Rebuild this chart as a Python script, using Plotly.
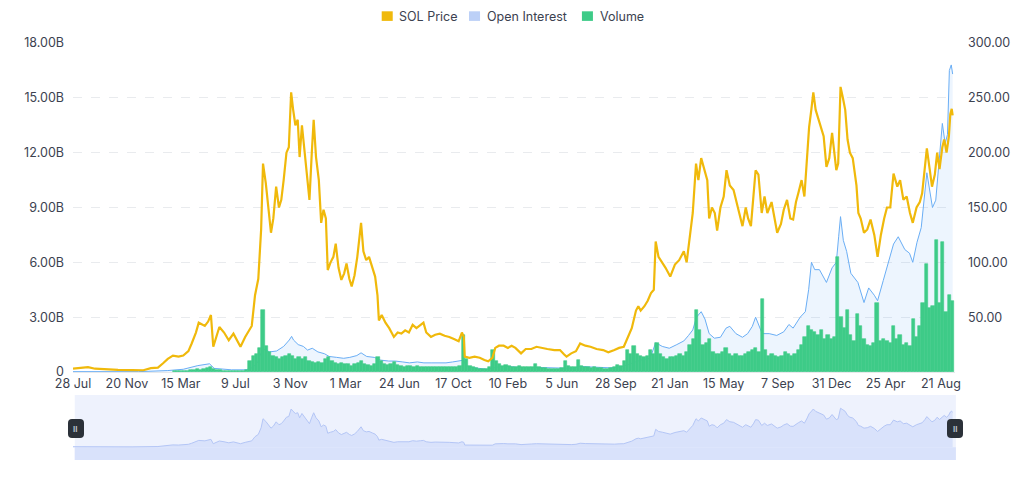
import pandas as pd
import plotly.graph_objects as go

# SOL price (USD)
price_points = [
    ("2020-07-28", 3.0), ("2020-08-12", 3.5), ("2020-08-29", 4.5), ("2020-09-13", 3.0),
    ("2020-10-01", 2.5), ("2020-11-01", 2.0), ("2020-12-01", 1.8), ("2020-12-25", 1.6),
    ("2021-01-10", 3.5), ("2021-01-25", 4.0), ("2021-02-05", 8.0), ("2021-02-15", 12.0),
    ("2021-02-26", 15.0), ("2021-03-10", 14.0), ("2021-03-20", 15.0), ("2021-03-31", 19.0),
    ("2021-04-07", 26.0), ("2021-04-16", 36.0), ("2021-04-22", 45.0), ("2021-05-05", 42.0),
    ("2021-05-12", 46.0), ("2021-05-18", 52.0), ("2021-05-23", 23.0), ("2021-06-01", 35.0),
    ("2021-06-05", 41.0), ("2021-06-15", 36.0), ("2021-06-25", 29.0), ("2021-07-05", 35.0),
    ("2021-07-20", 23.0), ("2021-07-30", 32.0), ("2021-08-05", 36.0), ("2021-08-13", 42.0),
    ("2021-08-20", 70.0), ("2021-08-27", 85.0), ("2021-09-02", 130.0), ("2021-09-06", 190.0),
    ("2021-09-12", 172.0), ("2021-09-17", 150.0), ("2021-09-23", 127.0), ("2021-09-28", 140.0),
    ("2021-10-04", 169.0), ("2021-10-10", 150.0), ("2021-10-15", 157.0), ("2021-10-20", 175.0),
    ("2021-10-26", 200.0), ("2021-10-31", 205.0), ("2021-11-05", 255.0), ("2021-11-09", 240.0),
    ("2021-11-14", 225.0), ("2021-11-19", 230.0), ("2021-11-23", 196.0), ("2021-11-28", 225.0),
    ("2021-12-04", 200.0), ("2021-12-09", 175.0), ("2021-12-14", 157.0), ("2021-12-19", 200.0),
    ("2021-12-23", 230.0), ("2021-12-28", 196.0), ("2022-01-03", 175.0), ("2022-01-08", 136.0),
    ("2022-01-13", 148.0), ("2022-01-18", 140.0), ("2022-01-22", 93.0), ("2022-01-28", 100.0),
    ("2022-02-03", 105.0), ("2022-02-08", 117.0), ("2022-02-14", 95.0), ("2022-02-20", 84.0),
    ("2022-02-26", 90.0), ("2022-03-03", 99.0), ("2022-03-09", 85.0), ("2022-03-14", 78.0),
    ("2022-03-20", 88.0), ("2022-03-26", 105.0), ("2022-04-03", 136.0), ("2022-04-08", 110.0),
    ("2022-04-14", 102.0), ("2022-04-20", 105.0), ("2022-04-27", 95.0), ("2022-05-03", 87.0),
    ("2022-05-08", 70.0), ("2022-05-11", 47.0), ("2022-05-17", 52.0), ("2022-05-25", 45.0),
    ("2022-06-02", 40.0), ("2022-06-12", 32.0), ("2022-06-20", 36.0), ("2022-06-28", 35.0),
    ("2022-07-06", 38.0), ("2022-07-14", 36.0), ("2022-07-22", 43.0), ("2022-07-30", 40.0),
    ("2022-08-08", 43.0), ("2022-08-14", 45.0), ("2022-08-20", 36.0), ("2022-08-30", 32.0),
    ("2022-09-08", 34.0), ("2022-09-18", 35.0), ("2022-09-28", 33.0), ("2022-10-08", 32.0),
    ("2022-10-18", 30.0), ("2022-10-28", 28.0), ("2022-11-04", 36.0), ("2022-11-08", 32.0),
    ("2022-11-10", 14.0), ("2022-11-20", 13.0), ("2022-12-01", 14.0), ("2022-12-12", 13.0),
    ("2022-12-22", 11.0), ("2022-12-30", 9.8), ("2023-01-08", 13.0), ("2023-01-14", 22.0),
    ("2023-01-22", 24.0), ("2023-02-01", 24.0), ("2023-02-10", 22.0), ("2023-02-18", 24.0),
    ("2023-02-26", 22.0), ("2023-03-10", 17.0), ("2023-03-20", 21.0), ("2023-04-01", 21.0),
    ("2023-04-12", 23.0), ("2023-04-22", 22.0), ("2023-05-05", 21.0), ("2023-05-20", 20.0),
    ("2023-06-01", 20.0), ("2023-06-10", 16.0), ("2023-06-15", 14.0), ("2023-06-25", 17.0),
    ("2023-07-05", 19.0), ("2023-07-14", 26.0), ("2023-07-25", 24.0), ("2023-08-05", 23.0),
    ("2023-08-18", 21.0), ("2023-09-01", 20.0), ("2023-09-12", 18.0), ("2023-09-25", 20.0),
    ("2023-10-05", 22.0), ("2023-10-15", 23.0), ("2023-10-24", 32.0), ("2023-11-01", 40.0),
    ("2023-11-10", 56.0), ("2023-11-15", 60.0), ("2023-11-20", 56.0), ("2023-11-28", 60.0),
    ("2023-12-05", 65.0), ("2023-12-12", 72.0), ("2023-12-18", 75.0), ("2023-12-22", 119.0),
    ("2023-12-28", 105.0), ("2024-01-05", 100.0), ("2024-01-12", 95.0), ("2024-01-22", 87.0),
    ("2024-02-01", 98.0), ("2024-02-10", 102.0), ("2024-02-20", 110.0), ("2024-02-26", 100.0),
    ("2024-03-04", 127.0), ("2024-03-10", 145.0), ("2024-03-17", 190.0), ("2024-03-22", 175.0),
    ("2024-03-28", 195.0), ("2024-04-03", 185.0), ("2024-04-10", 175.0), ("2024-04-14", 140.0),
    ("2024-04-20", 150.0), ("2024-04-26", 145.0), ("2024-05-01", 129.0), ("2024-05-08", 150.0),
    ("2024-05-15", 160.0), ("2024-05-21", 184.0), ("2024-05-28", 170.0), ("2024-06-05", 166.0),
    ("2024-06-12", 154.0), ("2024-06-20", 140.0), ("2024-06-24", 133.0), ("2024-07-01", 150.0),
    ("2024-07-06", 140.0), ("2024-07-12", 133.0), ("2024-07-18", 160.0), ("2024-07-22", 184.0),
    ("2024-07-28", 180.0), ("2024-08-04", 145.0), ("2024-08-10", 160.0), ("2024-08-16", 145.0),
    ("2024-08-25", 155.0), ("2024-09-06", 127.0), ("2024-09-14", 135.0), ("2024-09-20", 148.0),
    ("2024-09-27", 157.0), ("2024-10-04", 140.0), ("2024-10-10", 139.0), ("2024-10-16", 155.0),
    ("2024-10-21", 163.0), ("2024-10-28", 175.0), ("2024-11-03", 160.0), ("2024-11-09", 195.0),
    ("2024-11-13", 223.0), ("2024-11-18", 240.0), ("2024-11-22", 255.0), ("2024-11-27", 239.0),
    ("2024-12-03", 230.0), ("2024-12-08", 223.0), ("2024-12-14", 215.0), ("2024-12-20", 187.0),
    ("2024-12-26", 195.0), ("2025-01-01", 218.0), ("2025-01-06", 200.0), ("2025-01-10", 184.0),
    ("2025-01-14", 190.0), ("2025-01-19", 260.0), ("2025-01-24", 250.0), ("2025-01-29", 239.0),
    ("2025-02-03", 212.0), ("2025-02-08", 200.0), ("2025-02-14", 195.0), ("2025-02-22", 170.0),
    ("2025-02-26", 145.0), ("2025-03-03", 140.0), ("2025-03-10", 127.0), ("2025-03-17", 130.0),
    ("2025-03-24", 139.0), ("2025-04-01", 125.0), ("2025-04-08", 105.0), ("2025-04-15", 125.0),
    ("2025-04-22", 140.0), ("2025-04-28", 150.0), ("2025-05-05", 150.0), ("2025-05-12", 181.0),
    ("2025-05-20", 169.0), ("2025-05-26", 175.0), ("2025-06-02", 157.0), ("2025-06-09", 160.0),
    ("2025-06-16", 145.0), ("2025-06-22", 136.0), ("2025-06-30", 150.0), ("2025-07-07", 155.0),
    ("2025-07-12", 163.0), ("2025-07-18", 185.0), ("2025-07-22", 204.0), ("2025-07-28", 185.0),
    ("2025-08-02", 169.0), ("2025-08-08", 180.0), ("2025-08-13", 200.0), ("2025-08-18", 185.0),
    ("2025-08-24", 205.0), ("2025-08-28", 212.0), ("2025-09-02", 200.0), ("2025-09-07", 215.0),
    ("2025-09-10", 235.0), ("2025-09-13", 240.0), ("2025-09-15", 234.0),
]

# open interest (billions USD)
oi_points = [
    ("2020-07-28", 0.02), ("2020-12-15", 0.02), ("2021-02-15", 0.08), ("2021-03-20", 0.15),
    ("2021-04-20", 0.35), ("2021-05-15", 0.45), ("2021-05-25", 0.2), ("2021-07-01", 0.12),
    ("2021-08-01", 0.12), ("2021-08-15", 0.25), ("2021-08-25", 0.5), ("2021-09-01", 1.0),
    ("2021-09-08", 1.25), ("2021-09-20", 1.1), ("2021-10-05", 1.15), ("2021-10-20", 1.4),
    ("2021-11-01", 1.75), ("2021-11-06", 1.95), ("2021-11-10", 1.75), ("2021-11-20", 1.5),
    ("2021-12-01", 1.4), ("2021-12-10", 1.2), ("2021-12-20", 1.3), ("2022-01-01", 1.1),
    ("2022-01-15", 1.0), ("2022-01-25", 0.85), ("2022-02-10", 0.8), ("2022-02-25", 0.75),
    ("2022-03-10", 0.8), ("2022-03-25", 0.9), ("2022-04-03", 1.05), ("2022-04-15", 0.85),
    ("2022-05-01", 0.8), ("2022-05-15", 0.65), ("2022-06-01", 0.6), ("2022-06-15", 0.6),
    ("2022-07-01", 0.55), ("2022-07-15", 0.5), ("2022-08-01", 0.55), ("2022-08-15", 0.5),
    ("2022-09-01", 0.5), ("2022-09-15", 0.5), ("2022-10-01", 0.5), ("2022-10-15", 0.55),
    ("2022-11-01", 0.6), ("2022-11-08", 0.65), ("2022-11-12", 0.35), ("2022-11-25", 0.25),
    ("2022-12-10", 0.2), ("2022-12-28", 0.15), ("2023-01-10", 0.22), ("2023-01-20", 0.28),
    ("2023-02-10", 0.3), ("2023-03-01", 0.25), ("2023-03-20", 0.22), ("2023-04-15", 0.25),
    ("2023-05-15", 0.22), ("2023-06-10", 0.18), ("2023-06-25", 0.2), ("2023-07-15", 0.3),
    ("2023-08-15", 0.27), ("2023-09-15", 0.23), ("2023-10-10", 0.28), ("2023-10-25", 0.4),
    ("2023-11-10", 0.55), ("2023-11-20", 0.65), ("2023-12-10", 0.75), ("2023-12-22", 1.6),
    ("2024-01-05", 1.4), ("2024-01-20", 1.3), ("2024-02-05", 1.5), ("2024-02-20", 1.7),
    ("2024-03-01", 2.0), ("2024-03-10", 2.3), ("2024-03-18", 3.0), ("2024-03-28", 3.3),
    ("2024-04-05", 2.9), ("2024-04-14", 2.1), ("2024-04-25", 1.85), ("2024-05-08", 1.9),
    ("2024-05-20", 2.4), ("2024-05-28", 2.5), ("2024-06-10", 2.1), ("2024-06-24", 1.9),
    ("2024-07-05", 2.1), ("2024-07-15", 2.5), ("2024-07-22", 3.0), ("2024-08-05", 2.1),
    ("2024-08-20", 2.1), ("2024-09-05", 2.0), ("2024-09-20", 2.2), ("2024-10-01", 2.6),
    ("2024-10-10", 2.4), ("2024-10-25", 3.0), ("2024-11-05", 3.3), ("2024-11-12", 4.5),
    ("2024-11-18", 6.0), ("2024-11-25", 5.6), ("2024-12-05", 5.6), ("2024-12-20", 4.9),
    ("2025-01-01", 5.7), ("2025-01-10", 6.0), ("2025-01-15", 7.4), ("2025-01-19", 8.5),
    ("2025-01-25", 7.2), ("2025-02-01", 6.6), ("2025-02-10", 5.4), ("2025-02-25", 4.9),
    ("2025-03-10", 3.8), ("2025-03-20", 4.6), ("2025-04-01", 4.2), ("2025-04-08", 3.9),
    ("2025-04-20", 5.0), ("2025-05-01", 6.0), ("2025-05-12", 7.0), ("2025-05-22", 7.4),
    ("2025-06-05", 6.7), ("2025-06-15", 6.5), ("2025-06-22", 6.0), ("2025-07-01", 7.1),
    ("2025-07-10", 7.9), ("2025-07-22", 10.9), ("2025-07-28", 10.0), ("2025-08-03", 9.0),
    ("2025-08-10", 9.4), ("2025-08-17", 11.5), ("2025-08-24", 13.6), ("2025-08-30", 12.5),
    ("2025-09-04", 13.0), ("2025-09-08", 16.5), ("2025-09-12", 16.8), ("2025-09-15", 16.3),
]

# weekly volume (billions USD), weeks starting 2021-03-01
volume_start = "2021-03-01"
volume_values = [
    0.05, 0.05, 0.06, 0.08, 0.08, 0.10, 0.12, 0.15, 0.12, 0.15, 0.20, 0.25, 0.18,
    0.12, 0.10, 0.08, 0.08, 0.07, 0.06, 0.06, 0.07, 0.08, 0.10, 0.60, 0.90, 1.00,
    1.30, 3.40, 1.40, 1.10, 0.90, 0.80, 0.70, 0.80, 0.90, 1.00, 0.90, 0.70, 0.80,
    0.70, 0.80, 0.60, 0.55, 0.50, 0.55, 0.50, 0.70, 0.80, 0.60, 0.50, 0.45, 0.50,
    0.45, 0.45, 0.35, 0.45, 0.50, 0.60, 0.45, 0.40, 0.35, 0.45, 0.80, 0.60, 0.45,
    0.40, 0.45, 0.55, 0.40, 0.35, 0.30, 0.35, 0.35, 0.30, 0.35, 0.30, 0.30, 0.28,
    0.30, 0.30, 0.28, 0.28, 0.28, 0.28, 0.28, 0.28, 0.30, 0.35, 2.00, 0.70, 0.35,
    0.28, 0.22, 0.18, 0.18, 0.18, 0.28, 1.20, 0.60, 0.45, 0.35, 0.40, 0.35, 0.30,
    0.28, 0.35, 0.30, 0.28, 0.28, 0.30, 0.45, 0.28, 0.22, 0.22, 0.18, 0.18, 0.18,
    0.18, 0.22, 0.60, 0.35, 0.28, 0.28, 0.65, 0.35, 0.28, 0.28, 0.22, 0.28, 0.22,
    0.22, 0.18, 0.18, 0.22, 0.28, 0.40, 0.35, 0.60, 1.20, 1.00, 1.40, 1.00, 0.90,
    0.80, 0.90, 1.20, 1.00, 1.60, 1.00, 0.80, 0.70, 0.80, 0.80, 0.90, 1.00, 0.90,
    1.10, 1.50, 1.80, 3.40, 2.30, 1.50, 1.60, 1.80, 1.10, 1.00, 1.00, 1.10, 1.30,
    1.00, 0.90, 1.00, 0.90, 0.90, 1.00, 1.10, 1.20, 1.30, 1.10, 4.00, 1.20, 0.90,
    1.00, 0.90, 0.80, 0.90, 1.10, 1.00, 0.90, 1.00, 1.20, 1.50, 1.90, 2.50, 2.30,
    2.20, 2.00, 2.30, 1.80, 2.00, 1.80, 1.90, 6.30, 3.00, 2.40, 3.40, 2.00, 1.70,
    3.20, 2.50, 1.80, 1.50, 1.40, 1.60, 3.80, 1.70, 1.80, 1.70, 1.60, 2.50, 1.80,
    2.00, 1.50, 1.60, 1.40, 2.90, 1.90, 2.50, 3.80, 5.90, 3.50, 3.60, 7.20, 3.80,
    7.10, 3.30, 4.20, 3.90,
]

tick_dates = [
    "2020-07-28", "2020-11-20", "2021-03-15", "2021-07-09", "2021-11-03", "2022-03-01",
    "2022-06-24", "2022-10-17", "2023-02-10", "2023-06-05", "2023-09-28", "2024-01-21",
    "2024-05-15", "2024-09-07", "2024-12-31", "2025-04-25", "2025-08-21",
]
tick_labels = [
    "28 Jul", "20 Nov", "15 Mar", "9 Jul", "3 Nov", "1 Mar", "24 Jun", "17 Oct",
    "10 Feb", "5 Jun", "28 Sep", "21 Jan", "15 May", "7 Sep", "31 Dec", "25 Apr", "21 Aug",
]
left_ticks = [0, 3, 6, 9, 12, 15, 18]
left_labels = ["0", "3.00B", "6.00B", "9.00B", "12.00B", "15.00B", "18.00B"]
right_ticks = [50, 100, 150, 200, 250, 300]
right_labels = ["50.00", "100.00", "150.00", "200.00", "250.00", "300.00"]

legend_names = ["SOL Price", "Open Interest", "Volume"]
legend_colors = ["#f0b90b", "#bcd0f7", "#3ecb88"]

price_dates = [d for d, _ in price_points]
price_values = [v for _, v in price_points]
oi_dates = [d for d, _ in oi_points]
oi_values = [v for _, v in oi_points]
volume_dates = pd.date_range(volume_start, periods=len(volume_values), freq="7D")

PRICE_COLOR = "#f0b90b"
OI_COLOR = "#6aaef5"
VOL_COLOR = "#3ecb88"
TEXT_COLOR = "#3c4250"
x_range = ["2020-07-28", "2025-09-20"]

fig = go.Figure()

fig.add_trace(
    go.Scatter(
        x=oi_dates, y=oi_values, mode="lines",
        line={"color": OI_COLOR, "width": 1},
        fill="tozeroy", fillcolor="rgba(106,174,245,0.12)",
        xaxis="x", yaxis="y", showlegend=False, hoverinfo="skip",
    )
)
fig.add_trace(
    go.Bar(
        x=volume_dates, y=volume_values,
        marker={"color": VOL_COLOR, "line": {"width": 0.6, "color": VOL_COLOR}},
        xaxis="x", yaxis="y2", showlegend=False,
    )
)
fig.add_trace(
    go.Scatter(
        x=price_dates, y=price_values, mode="lines",
        line={"color": PRICE_COLOR, "width": 2.2},
        xaxis="x", yaxis="y3", showlegend=False,
    )
)
# navigator
fig.add_trace(
    go.Scatter(
        x=price_dates, y=price_values, mode="lines",
        line={"color": "#b4c6f6", "width": 1},
        fill="tozeroy", fillcolor="#d9e2fb",
        xaxis="x2", yaxis="y4", showlegend=False, hoverinfo="skip",
    )
)

axis_font = {"size": 12.5, "color": TEXT_COLOR}

# hand-placed legend (square swatches, tight text gap)
swatch_x = [0.350, 0.449, 0.577]
text_x = [0.369, 0.468, 0.596]
shapes = [
    {
        "type": "rect", "xref": "paper", "yref": "y4 domain", "x0": 0.002, "x1": 1.001,
        "y0": 0, "y1": 1, "fillcolor": "#eef2fd", "line": {"width": 0}, "layer": "below",
    },
    {
        "type": "rect", "xref": "paper", "yref": "y4", "x0": 0.002, "x1": 1.001,
        "y0": -86, "y1": 0, "fillcolor": "#d9e2fb", "line": {"width": 0}, "layer": "below",
    },
]
annotations = []
for sx, tx, name, color in zip(swatch_x, text_x, legend_names, legend_colors):
    shapes.append({
        "type": "rect", "xref": "paper", "yref": "paper", "x0": sx, "x1": sx + 0.0125,
        "y0": 1.053, "y1": 1.076, "fillcolor": color, "line": {"width": 0},
    })
    annotations.append({
        "x": tx, "y": 1.0645, "xref": "paper", "yref": "paper", "text": name,
        "showarrow": False, "xanchor": "left", "yanchor": "middle",
        "font": {"size": 12.5, "color": TEXT_COLOR}, "borderpad": 0,
    })

# navigator handles
handle_path = (
    "M -4,-9.5 L 4,-9.5 Q 8,-9.5 8,-5.5 L 8,5.5 Q 8,9.5 4,9.5 "
    "L -4,9.5 Q -8,9.5 -8,5.5 L -8,-5.5 Q -8,-9.5 -4,-9.5 Z"
)
for hx in (0.0034, 1.0):
    shapes.append({
        "type": "path", "xref": "paper", "yref": "paper", "xsizemode": "pixel",
        "ysizemode": "pixel", "xanchor": hx, "yanchor": 0.0755, "path": handle_path,
        "fillcolor": "#2b3139", "line": {"width": 0}, "layer": "above",
    })
    annotations.append({
        "x": hx, "y": 0.0755, "xref": "paper", "yref": "paper", "text": "<b>II</b>",
        "showarrow": False, "xanchor": "center", "yanchor": "middle",
        "font": {"size": 8, "color": "#b7bdc6"},
    })

# page body adds an 8px offset, so the figure is 8px smaller than the window
fig.update_layout(
    width=1016,
    height=485,
    margin={"l": 65, "r": 69, "t": 35, "b": 33, "autoexpand": False},
    paper_bgcolor="white",
    plot_bgcolor="white",
    font={"family": "Inter, Roboto, sans-serif", "size": 12, "color": TEXT_COLOR},
    barmode="overlay",
    bargap=0,
    showlegend=False,
    xaxis={
        "domain": [0, 1], "anchor": "y", "range": x_range, "type": "date",
        "tickvals": tick_dates, "ticktext": tick_labels, "tickfont": axis_font,
        "showgrid": False, "showline": True, "linecolor": "#e6e8ea", "ticks": "",
    },
    yaxis={
        "domain": [0.211, 1], "range": [0, 18], "tickvals": left_ticks,
        "ticktext": left_labels, "tickfont": axis_font, "gridcolor": "#e9ebee",
        "griddash": "dash", "zeroline": False, "ticklabelstandoff": 8,
    },
    yaxis2={"overlaying": "y", "range": [0, 18], "visible": False},
    yaxis3={
        "overlaying": "y", "side": "right", "range": [0, 300], "tickvals": right_ticks,
        "ticktext": right_labels, "tickfont": axis_font, "showgrid": False,
        "zeroline": False, "ticklabelstandoff": 12,
    },
    xaxis2={"domain": [0, 1], "anchor": "y4", "range": x_range, "type": "date", "visible": False},
    yaxis4={"domain": [0, 0.156], "anchor": "x2", "range": [-86, 349], "visible": False},
    shapes=shapes,
    annotations=annotations,
)

fig.write_html("out.html")
